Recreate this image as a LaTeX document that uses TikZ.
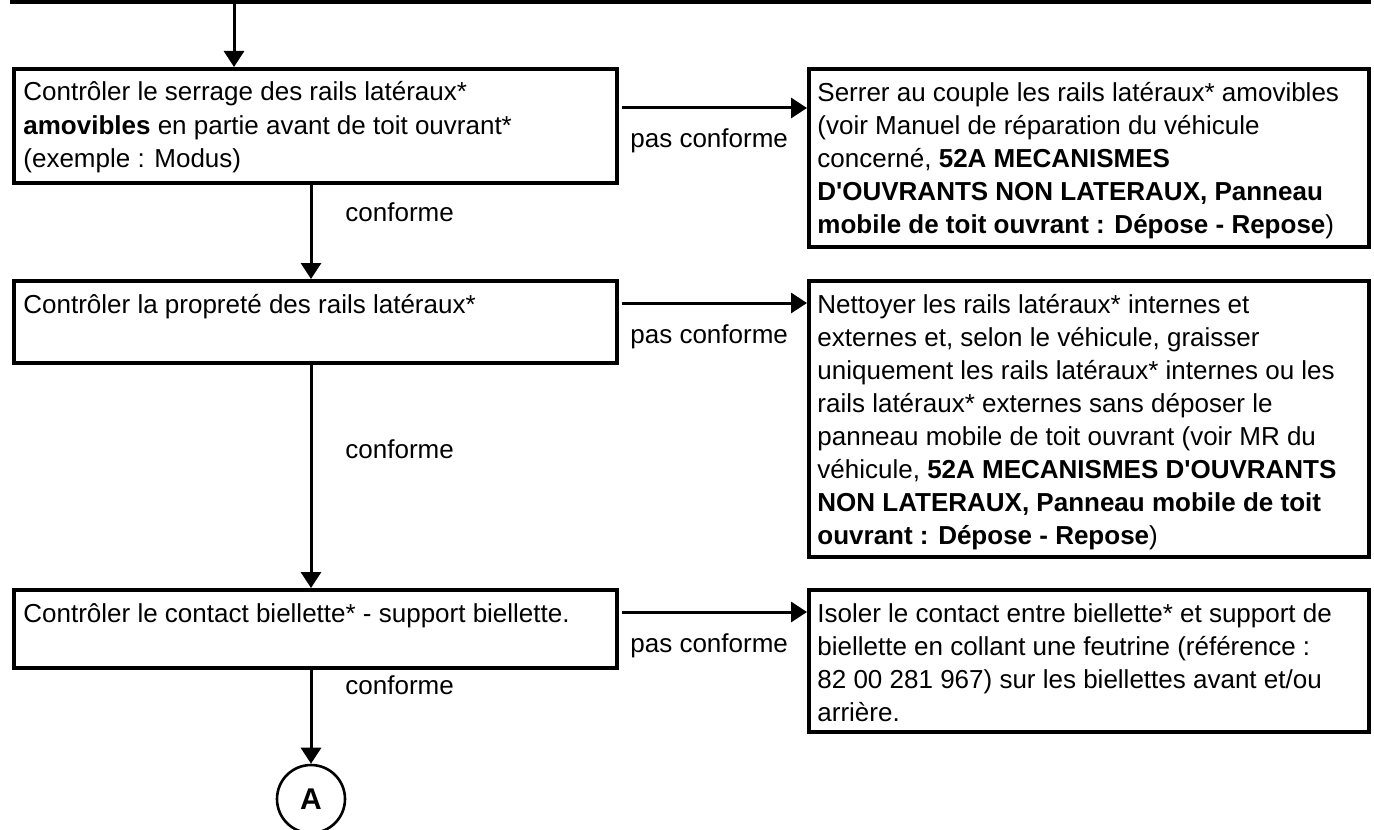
\documentclass[tikz,border=0pt]{standalone}
\usepackage{fontspec}
\setmainfont{Liberation Sans}
\usetikzlibrary{arrows.meta}
\begin{document}
\begin{tikzpicture}[x=0.5pt,y=-0.5pt,
  box/.style={draw, line width=2pt, inner sep=0pt, anchor=north west},
  txt/.style={inner sep=0pt, anchor=base west, align=left, font=\fontsize{13pt}{16.5pt}\selectfont},
  lbl/.style={inner sep=0pt, anchor=base west, font=\fontsize{13pt}{16.5pt}\selectfont},
  arr/.style={line width=1.5pt, -{Triangle[width=10pt,length=8pt]}}
]
\useasboundingbox (0,0) rectangle (1374,829);
% top box
\node[box, anchor=south west, minimum width=678.5pt, minimum height=20pt] (top) at (10,4) {};
% left boxes
\node[box, minimum width=301.5pt, minimum height=57pt] (L1) at (12,67) {};
\node[box, minimum width=301.5pt, minimum height=41pt] (L2) at (12,279) {};
\node[box, minimum width=301.5pt, minimum height=39pt] (L3) at (12,588) {};
% right boxes
\node[box, minimum width=280pt, minimum height=89pt] (R1) at (807,67) {};
\node[box, minimum width=280pt, minimum height=138pt] (R2) at (807,279) {};
\node[box, minimum width=280pt, minimum height=71pt] (R3) at (807,588) {};
% texts (anchor base = last line's baseline; line pitch 33px)
\node[txt] (L1t) at ([shift={(11,100)}]L1.north west) {Contrôler le serrage des rails latéraux*\\\textbf{amovibles} en partie avant de toit ouvrant*\\(exemple : Modus)};
\node[txt] (L2t) at ([shift={(11,34)}]L2.north west) {Contrôler la propreté des rails latéraux*};
\node[txt] (L3t) at ([shift={(11,34)}]L3.north west) {Contrôler le contact biellette* - support biellette.};
\node[txt] (R1t) at ([shift={(10,166)}]R1.north west) {Serrer au couple les rails latéraux* amovibles\\(voir Manuel de réparation du véhicule\\concerné, \textbf{52A MECANISMES}\\\textbf{D\textquotesingle OUVRANTS NON LATERAUX, Panneau}\\\textbf{mobile de toit ouvrant : Dépose - Repose})};
\node[txt] (R2t) at ([shift={(10,265)}]R2.north west) {Nettoyer les rails latéraux* internes et\\externes et, selon le véhicule, graisser\\uniquement les rails latéraux* internes ou les\\rails latéraux* externes sans déposer le\\panneau mobile de toit ouvrant (voir MR du\\véhicule, \textbf{52A MECANISMES D\textquotesingle OUVRANTS}\\\textbf{NON LATERAUX, Panneau mobile de toit}\\\textbf{ouvrant : Dépose - Repose})};
\node[txt] (R3t) at ([shift={(10,133)}]R3.north west) {Isoler le contact entre biellette* et support de\\biellette en collant une feutrine (référence :\\82 00 281 967) sur les biellettes avant et/ou\\arrière.};
% connector A
\node[circle, draw, line width=1.3pt, minimum size=34pt, inner sep=0pt, font=\bfseries\fontsize{15pt}{18pt}\selectfont] (A) at (311,799) {A};
% helper coordinates
\coordinate (va) at (234,0);
\coordinate (vb) at (311,0);
\coordinate (h1) at (0,108);
\coordinate (h2) at (0,303);
\coordinate (h3) at (0,612);
% vertical arrows
\draw[arr] (va |- top.south) -- (va |- L1.north);
\draw[arr] (vb |- L1.south) -- (vb |- L2.north);
\draw[arr] (vb |- L2.south) -- (vb |- L3.north);
\draw[arr] (vb |- L3.south) -- (A.north);
% horizontal arrows
\draw[arr, shorten <=1.5pt] (h1 -| L1.east) -- (h1 -| R1.west);
\draw[arr, shorten <=1.5pt] (h2 -| L2.east) -- (h2 -| R2.west);
\draw[arr, shorten <=1.5pt] (h3 -| L3.east) -- (h3 -| R3.west);
% labels
\node[lbl] (p1) at (630,148) {pas conforme};
\node[lbl] (p2) at (630,343) {pas conforme};
\node[lbl] (p3) at (630,652) {pas conforme};
\node[lbl] (c1) at (345,221) {conforme};
\node[lbl] (c2) at (345,458) {conforme};
\node[lbl] (c3) at (345,694) {conforme};
\end{tikzpicture}
\end{document}
